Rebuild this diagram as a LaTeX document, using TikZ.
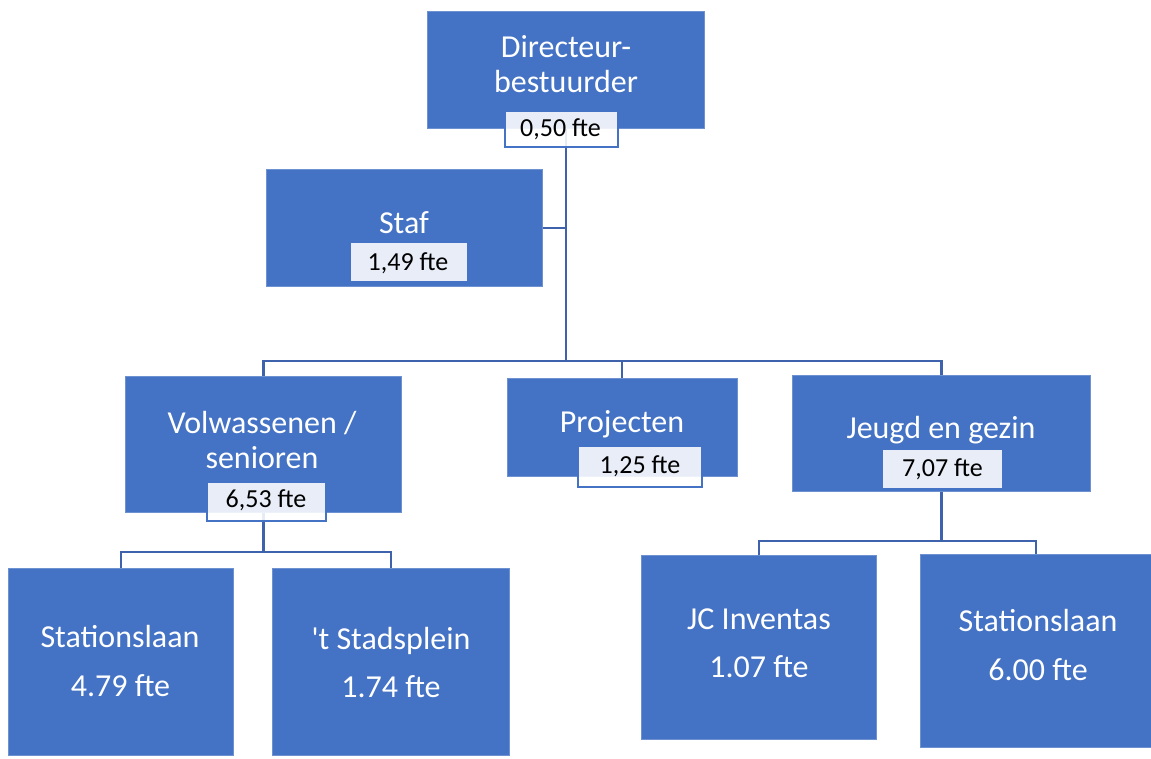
\documentclass[tikz,border=0pt]{standalone}
\usepackage{fontspec}
\setmainfont{Carlito}[Ligatures=TeXOff]
\definecolor{boxblue}{RGB}{68,114,196}
\definecolor{boxedge}{RGB}{110,145,210}
\definecolor{linkblue}{RGB}{62,99,172}
\begin{document}
\begin{tikzpicture}[x=0.75pt,y=-0.75pt,
  box/.style 2 args={draw=boxedge,line width=0.6pt,fill=boxblue,inner sep=0pt,
    minimum width=#1*0.75pt,minimum height=#2*0.75pt},
  lbl/.style 2 args={fill=white,fill opacity=0.88,inner sep=0pt,
    minimum width=#1*0.75pt,minimum height=#2*0.75pt},
  lblb/.style 2 args={lbl={#1}{#2},draw=boxblue,draw opacity=1,line width=1.5pt},
  conn/.style={draw=linkblue,line width=1.9pt},
  wtxt/.style={anchor=base,inner sep=0pt,text=white,font=\fontsize{24}{29}\selectfont},
  btxt/.style={anchor=base,inner sep=0pt,text=black,font=\fontsize{19.5}{23}\selectfont}]
\useasboundingbox (0,0) rectangle (1151,758);

% connector junction points
\coordinate (bus) at (565,361);
\coordinate (busv) at (263,552);
\coordinate (busj) at (941,541);

% boxes (positions; filled after connectors)
\path
  (566,70) node[box={276}{116}] (dir) {}
  (404.5,228) node[box={275}{116}] (staf) {}
  (263.5,444.5) node[box={275}{135}] (vol) {}
  (622,427) node[box={229}{97}] (proj) {}
  (941.5,433.5) node[box={297}{115}] (jeu) {}
  (121,662) node[box={224}{186}] (sa) {}
  (391,662) node[box={236}{186}] (sp) {}
  (759,647.5) node[box={234}{183}] (jc) {}
  (1035.75,651) node[box={230.5}{192}] (sb) {};

% connectors
\draw[conn] (dir.south) -- (dir.south |- bus);
\draw[conn] (staf.east) -- (staf.east -| dir.south);
\draw[conn] (vol.north) |- (bus) -| (jeu.north);
\draw[conn] (proj.north) -- (proj.north |- bus);
\draw[conn] (vol.south) -- (vol.south |- busv);
\draw[conn] (sa.north) |- (busv) -| (sp.north);
\draw[conn] (jeu.south) -- (jeu.south |- busj);
\draw[conn] (jc.north) |- (busj) -| (sb.north);

% boxes drawn on top of connectors
\foreach \n in {dir,staf,vol,proj,jeu,sa,sp,jc,sb}{
  \fill[boxblue] (\n.south west) rectangle (\n.north east);
  \draw[boxedge,line width=0.6pt] (\n.south west) rectangle (\n.north east);
}

% fte labels
\node[lblb={113}{36}] (dirl) at (561.5,129) {};
\node[lbl={116}{38}] (stafl) at (409,262) {};
\node[lblb={119}{39}] (voll) at (266.5,501.5) {};
\node[lblb={124}{41}] (projl) at (639.5,466) {};
\node[lbl={119}{38}] (jeul) at (942,469) {};

% texts
\node[wtxt] (t1) at (566,57.3) {Directeur-};
\node[wtxt] (t2) at (566,92.7) {bestuurder};
\node[btxt] (t3) at (560.5,136.7) {0,50 fte};
\node[wtxt] (t4) at (404,233.3) {Staf};
\node[btxt] (t5) at (408,270) {1,49 fte};
\node[wtxt] (t6) at (262,433.3) {Volwassenen /};
\node[wtxt] (t7) at (262,468.3) {senioren};
\node[btxt] (t8) at (266,507.3) {6,53 fte};
\node[wtxt] (t9) at (622,432.7) {Projecten};
\node[btxt] (t10) at (640,473.3) {1,25 fte};
\node[wtxt] (t11) at (941,438.3) {Jeugd en gezin};
\node[btxt] (t12) at (942.5,476.7) {7,07 fte};
\node[wtxt] (t13) at (120,647.3) {Stationslaan};
\node[wtxt] (t14) at (120.5,696.7) {4.79 fte};
\node[wtxt] (t15) at (391,649) {'t Stadsplein};
\node[wtxt] (t16) at (391,697.7) {1.74 fte};
\node[wtxt] (t17) at (759,629.3) {JC Inventas};
\node[wtxt] (t18) at (759,677.7) {1.07 fte};
\node[wtxt] (t19) at (1038,631.7) {Stationslaan};
\node[wtxt] (t20) at (1038,680) {6.00 fte};
\end{tikzpicture}
\end{document}
